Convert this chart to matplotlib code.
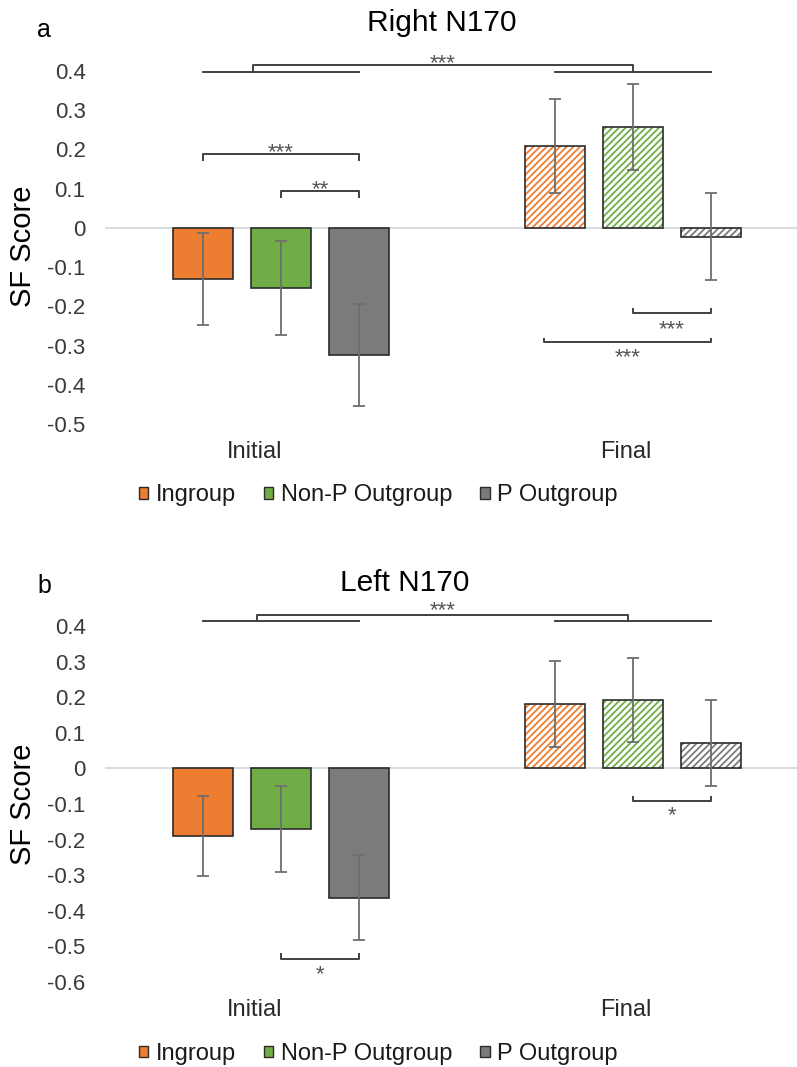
import numpy as np
import matplotlib
matplotlib.use("Agg")
import matplotlib.pyplot as plt
from matplotlib.patches import Patch

plt.rcParams['font.family'] = ['Liberation Sans', 'DejaVu Sans']
plt.rcParams['hatch.linewidth'] = 1.3

# data
conditions = ["Initial", "Final"]
groups = ["Ingroup", "Non-P Outgroup", "P Outgroup"]
colors = ["#ED7D31", "#70AD47", "#797B7D"]

right_initial = [-0.13, -0.153, -0.323]
right_initial_err = [0.118, 0.12, 0.13]
right_final = [0.209, 0.258, -0.022]
right_final_err = [0.12, 0.11, 0.111]

left_initial = [-0.19, -0.17, -0.363]
left_initial_err = [0.112, 0.12, 0.12]
left_final = [0.181, 0.193, 0.071]
left_final_err = [0.12, 0.118, 0.121]

right_ticks = [0.4, 0.3, 0.2, 0.1, 0, -0.1, -0.2, -0.3, -0.4, -0.5]
left_ticks = [0.4, 0.3, 0.2, 0.1, 0, -0.1, -0.2, -0.3, -0.4, -0.5, -0.6]

EDGE = "#2b2b2b"
LINE = "#404040"
STAR = "#555555"
W = 0.173
offsets = (np.arange(3) - 1) * 0.2216


def tick_text(v):
    return "0" if v == 0 else f"{v:.1f}"


def bracket(ax, x1, x2, y, leg, text, star_y):
    ax.plot([x1, x1, x2, x2], [y + leg, y, y, y + leg], color=LINE, lw=1.4,
            clip_on=False, solid_capstyle='butt', zorder=5)
    ax.annotate(text, xy=((x1 + x2) / 2, star_y), xytext=(0, -8.6),
                textcoords='offset points', ha='center', va='baseline',
                fontsize=16, color=STAR, annotation_clip=False)


def overall(ax, y_low, y_top, xl, xr, star_y):
    for c in range(2):
        ax.plot([c + offsets[0], c + offsets[2]], [y_low, y_low], color=LINE,
                lw=1.4, clip_on=False, zorder=5)
    ax.plot([xl, xl, xr, xr], [y_low, y_top, y_top, y_low], color=LINE, lw=1.4,
            clip_on=False, zorder=5)
    ax.annotate("***", xy=((xl + xr) / 2, star_y), xytext=(0, -8.6),
                textcoords='offset points', ha='center', va='baseline',
                fontsize=16, color=STAR, annotation_clip=False)


def draw_panel(ax, init_vals, init_err, fin_vals, fin_err, ticks):
    ax.axhline(0, color="#d6d9dc", lw=1.3, zorder=1)
    for k in range(3):
        ax.bar(offsets[k], init_vals[k], width=W, color=colors[k],
               edgecolor=EDGE, linewidth=1.2, zorder=2)
        ax.bar(1 + offsets[k], fin_vals[k], width=W, color="white",
               edgecolor=colors[k], hatch="/////", linewidth=0, zorder=2)
        ax.bar(1 + offsets[k], fin_vals[k], width=W, fill=False,
               edgecolor=EDGE, linewidth=1.2, zorder=3)
    ax.errorbar(offsets, init_vals, yerr=init_err, fmt='none', ecolor="#6e6e6e",
                elinewidth=1.3, capsize=4.5, capthick=1.3, zorder=4)
    ax.errorbar(1 + offsets, fin_vals, yerr=fin_err, fmt='none', ecolor="#6e6e6e",
                elinewidth=1.3, capsize=4.5, capthick=1.3, zorder=4)
    ax.set_xlim(-0.5, 1.5)
    ax.set_ylim(min(ticks), max(ticks))
    ax.set_yticks(ticks)
    ax.set_yticklabels([tick_text(t) for t in ticks], fontsize=16, color="#3a3a3a")
    ax.set_xticks([-0.074, 0.98])
    ax.set_xticklabels(conditions, fontsize=17, color="#2a2a2a")
    ax.tick_params(axis='y', length=0, pad=14)
    ax.tick_params(axis='x', length=0, pad=12)
    for s in ax.spines.values():
        s.set_visible(False)
    handles = [Patch(facecolor=c, edgecolor=EDGE, linewidth=1) for c in colors]
    ax.legend(handles, groups, loc='center', bbox_to_anchor=(0.388, -0.202),
              ncol=3, frameon=False, handlelength=0.4, handleheight=0.4,
              handletextpad=0.3, columnspacing=1.2, fontsize=17,
              labelcolor="#1a1a1a")


fig = plt.figure(figsize=(7.97, 10.67), dpi=100)
ax_a = fig.add_axes([105 / 797, 1 - 424 / 1067, 704 / 797, 353 / 1067])
ax_b = fig.add_axes([105 / 797, 1 - 982 / 1067, 704 / 797, 356 / 1067])

draw_panel(ax_a, right_initial, right_initial_err, right_final, right_final_err, right_ticks)
draw_panel(ax_b, left_initial, left_initial_err, left_final, left_final_err, left_ticks)

# significance marks, panel a
overall(ax_a, 0.398, 0.416, -0.08, 1.0, 0.434)
bracket(ax_a, offsets[0], offsets[2], 0.189, -0.018, "***", 0.209)
bracket(ax_a, offsets[1], offsets[2], 0.094, -0.017, "**", 0.115)
bracket(ax_a, 1 + offsets[1], 1 + offsets[2], -0.218, 0.014, "***", -0.242)
bracket(ax_a, 1 + offsets[0] - 0.03, 1 + offsets[2], -0.291, 0.01, "***", -0.314)

# significance marks, panel b
overall(ax_b, 0.415, 0.431, -0.068, 0.986, 0.462)
bracket(ax_b, offsets[1], offsets[2], -0.535, 0.017, "*", -0.561)
bracket(ax_b, 1 + offsets[1], 1 + offsets[2], -0.091, 0.014, "*", -0.116)

fig.text(442 / 797, 1 - 23 / 1067, "Right N170", ha='center', va='center', fontsize=21.5)
fig.text(405 / 797, 1 - 583 / 1067, "Left N170", ha='center', va='center', fontsize=21.5)
fig.text(37 / 797, 1 - 30 / 1067, "a", ha='left', va='center', fontsize=18)
fig.text(37 / 797, 1 - 586 / 1067, "b", ha='left', va='center', fontsize=18)
fig.text(23 / 797, 1 - 246 / 1067, "SF Score", rotation=90, ha='center', va='center', fontsize=21)
fig.text(23 / 797, 1 - 804 / 1067, "SF Score", rotation=90, ha='center', va='center', fontsize=21)

fig.savefig("out.png", dpi=100)
